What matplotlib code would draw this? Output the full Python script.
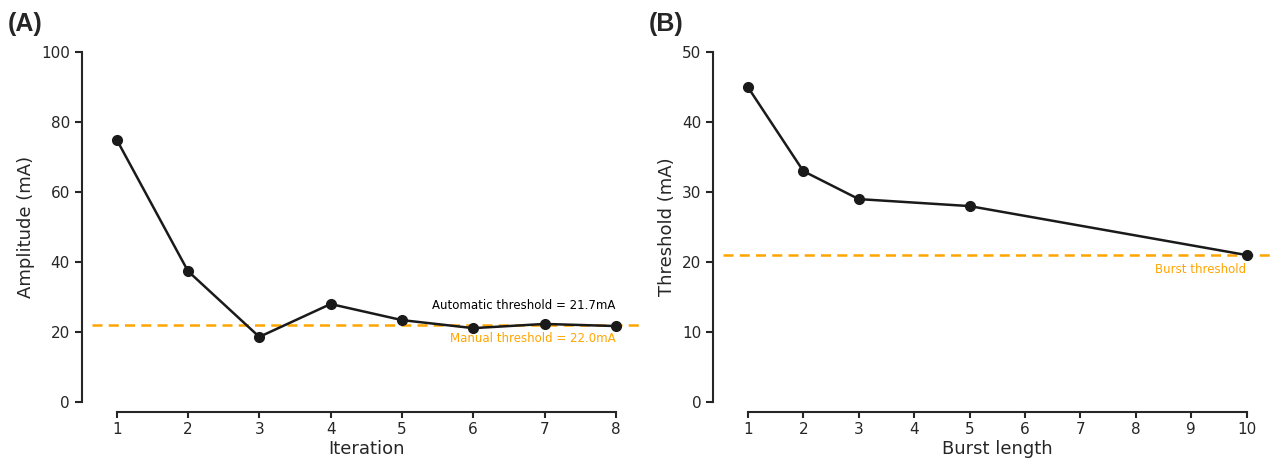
import matplotlib
matplotlib.use("Agg")
import matplotlib.pyplot as plt
import seaborn as sns

iterations = [1, 2, 3, 4, 5, 6, 7, 8]
amplitude = [75.0, 37.4, 18.6, 28.0, 23.4, 21.1, 22.3, 21.7]
manual_threshold = 22.0
auto_threshold_label = "Automatic threshold = 21.7mA"
manual_threshold_label = "Manual threshold = 22.0mA"

burst_lengths = [1, 2, 3, 5, 10]
burst_thresholds = [45, 33, 29, 28, 21]
burst_threshold = 21.0

sns.set_theme(style="ticks")
plt.rcParams['font.family'] = ['DejaVu Sans']

fig = plt.figure(figsize=(12.74, 4.62), dpi=100)
axA = fig.add_axes([0.072, 0.130, 0.431, 0.757])
axB = fig.add_axes([0.5675, 0.130, 0.4305, 0.757])

orange = "#FFA500"
dark = "#1a1a1a"
txt = "#262626"

# Panel A
axA.plot(iterations, amplitude, color=dark, lw=1.8, marker='o', ms=7, zorder=3)
axA.axhline(manual_threshold, color=orange, ls='--', lw=1.8, dashes=(4, 2.5), zorder=2)
axA.set_ylim(0, 100)
axA.set_xticks(iterations)
axA.set_yticks([0, 20, 40, 60, 80, 100])
axA.set_xlabel("Iteration", fontsize=13, color=txt, labelpad=2)
axA.set_ylabel("Amplitude (mA)", fontsize=13, color=txt, labelpad=4)
axA.text(8, 25.8, auto_threshold_label, ha='right', va='bottom', fontsize=8.5, color="black")
axA.text(8, 20.0, manual_threshold_label, ha='right', va='top', fontsize=8.5, color=orange)

# Panel B
axB.plot(burst_lengths, burst_thresholds, color=dark, lw=1.8, marker='o', ms=7, zorder=3)
axB.axhline(burst_threshold, color=orange, ls='--', lw=1.8, dashes=(4, 2.5), zorder=2)
axB.set_ylim(0, 50)
axB.set_xticks(list(range(1, 11)))
axB.set_yticks([0, 10, 20, 30, 40, 50])
axB.set_xlabel("Burst length", fontsize=13, color=txt, labelpad=2)
axB.set_ylabel("Threshold (mA)", fontsize=13, color=txt, labelpad=4)
axB.text(10, 19.8, "Burst threshold", ha='right', va='top', fontsize=8.5, color=orange)

for ax in (axA, axB):
    ax.tick_params(labelsize=11, colors=txt, width=1.5)
    ax.tick_params(axis='y', length=5, pad=3.5)
    ax.tick_params(axis='x', length=4.5, pad=3)
    for s in ax.spines.values():
        s.set_linewidth(1.5)
        s.set_color(txt)
    sns.despine(ax=ax, offset=7.2, trim=True)

fig.text(0.006, 0.948, "(A)", fontsize=18, fontweight='bold', family='Liberation Sans', va='center')
fig.text(0.509, 0.948, "(B)", fontsize=18, fontweight='bold', family='Liberation Sans', va='center')

fig.savefig("out.png", dpi=100)
